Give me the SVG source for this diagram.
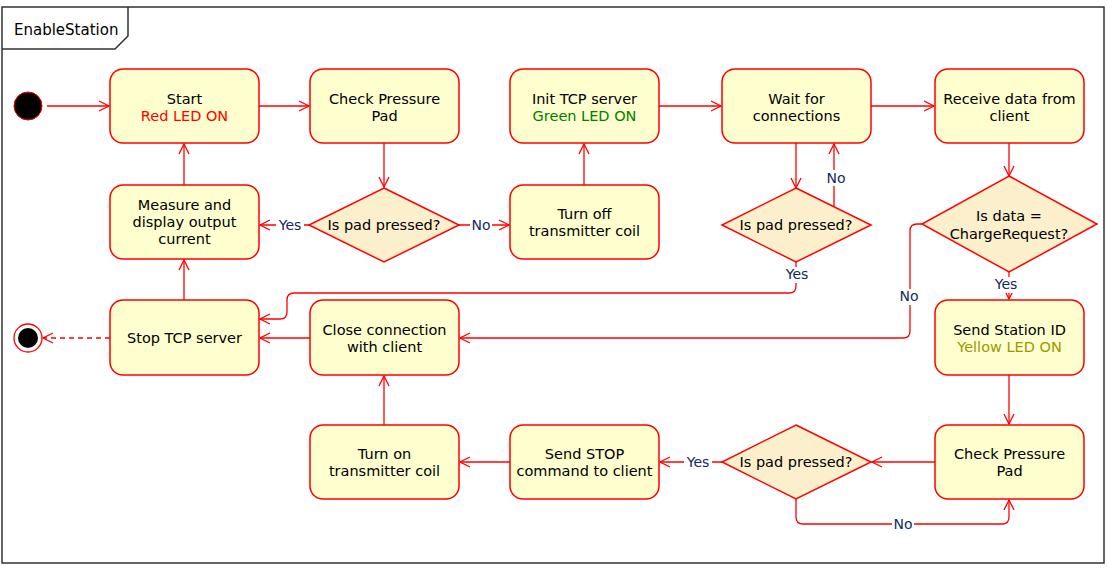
<svg xmlns="http://www.w3.org/2000/svg" width="1108" height="576" viewBox="0 0 1108 576">
<defs>
<marker id="arr" viewBox="0 0 12 12" refX="11" refY="6" markerWidth="12" markerHeight="12" markerUnits="userSpaceOnUse" orient="auto">
<path d="M1,1 L11,6 L1,11" fill="none" stroke="#FF0000" stroke-width="1.3"/>
</marker>
</defs>
<style>
.frame{fill:none;stroke:#333;stroke-width:1.5}
.act{fill:#FEFECE;stroke:#FF0000;stroke-width:1.5}
.dec{fill:#FCEFCB;stroke:#FF0000;stroke-width:1.5}
.t{font-family:"DejaVu Sans",Verdana,sans-serif;font-size:14.5px;fill:#000;text-anchor:middle}
.lbl{font-family:"DejaVu Sans",Verdana,sans-serif;font-size:14px;fill:#132a5e;text-anchor:middle}
.c{fill:none;stroke:#FF0000;stroke-width:1.3;marker-end:url(#arr)}
.red{fill:#FF0000}.green{fill:#008000}.olive{fill:#9A9A00}
</style>
<rect width="1108" height="576" fill="#fff"/>
<g id="frame">
<rect class="frame" x="2" y="7" width="1102" height="556"/>
<path class="frame" d="M2,49 H115 L128,36 V7"/>
<text x="14" y="35" style="font-family:'DejaVu Sans',Verdana,sans-serif;font-size:15px;fill:#000">EnableStation</text>
</g>
<g id="connectors">
<line class="c" x1="47" y1="106" x2="109" y2="106"/>
<line class="c" x1="259" y1="106" x2="309" y2="106"/>
<line class="c" x1="384" y1="143" x2="384" y2="187"/>
<line class="c" x1="309" y1="225" x2="260" y2="225"/>
<line class="c" x1="459" y1="225" x2="509" y2="225"/>
<line class="c" x1="584" y1="185" x2="584" y2="144"/>
<line class="c" x1="659" y1="106" x2="721" y2="106"/>
<line class="c" x1="796" y1="143" x2="796" y2="188"/>
<polyline class="c" points="834,206 834,144"/>
<path class="c" d="M796,262 V286 Q796,293 789,293 H294 Q287,293 287,300 V312 Q287,319 280,319 H260"/>
<line class="c" x1="871" y1="106" x2="934" y2="106"/>
<line class="c" x1="1009" y1="143" x2="1009" y2="176"/>
<line class="c" x1="1009" y1="272" x2="1009" y2="299"/>
<path class="c" d="M923,224 H917 Q910,224 910,231 V331 Q910,338 903,338 H460"/>
<line class="c" x1="310" y1="338" x2="260" y2="338"/>
<line class="c" x1="184" y1="300" x2="184" y2="260"/>
<line class="c" x1="184" y1="185" x2="184" y2="144"/>
<line class="c" x1="110" y1="338" x2="43" y2="338" stroke-dasharray="5,4"/>
<line class="c" x1="1009" y1="375" x2="1009" y2="424"/>
<line class="c" x1="935" y1="462" x2="872" y2="462"/>
<line class="c" x1="722" y1="462" x2="660" y2="462"/>
<path class="c" d="M796,499 V517 Q796,524 803,524 H1002 Q1009,524 1009,517 V500"/>
<line class="c" x1="510" y1="462" x2="460" y2="462"/>
<line class="c" x1="384" y1="425" x2="384" y2="376"/>
<rect x="276" y="217" width="28" height="16" fill="#fff"/>
<text class="lbl" x="290" y="230">Yes</text>
<rect x="470" y="217" width="22" height="16" fill="#fff"/>
<text class="lbl" x="481" y="230">No</text>
<rect x="825" y="170" width="22" height="16" fill="#fff"/>
<text class="lbl" x="836" y="183">No</text>
<rect x="783" y="267" width="28" height="16" fill="#fff"/>
<text class="lbl" x="797" y="279">Yes</text>
<rect x="992" y="277" width="28" height="16" fill="#fff"/>
<text class="lbl" x="1006" y="289">Yes</text>
<rect x="898" y="289" width="22" height="16" fill="#fff"/>
<text class="lbl" x="909" y="301">No</text>
<rect x="684" y="454" width="28" height="16" fill="#fff"/>
<text class="lbl" x="698" y="467">Yes</text>
<rect x="892" y="517" width="22" height="16" fill="#fff"/>
<text class="lbl" x="903" y="529">No</text>
</g>
<g id="start"><circle cx="28" cy="106" r="14" fill="#000" stroke="#FF0000" stroke-width="1"/></g>
<g id="end"><circle cx="28" cy="338" r="14" fill="#fff" stroke="#FF0000" stroke-width="1.3"/><circle cx="28" cy="338" r="10" fill="#000"/></g>
<g id="n_start"><rect class="act" x="110" y="69" width="149" height="74" rx="13"/><text class="t" x="184.5" y="104">Start</text><text class="t red" x="184.5" y="121">Red LED ON</text></g>
<g id="n_check1"><rect class="act" x="310" y="69" width="149" height="74" rx="13"/><text class="t" x="384.5" y="104">Check Pressure</text><text class="t" x="384.5" y="121">Pad</text></g>
<g id="n_init"><rect class="act" x="510" y="69" width="149" height="74" rx="13"/><text class="t" x="584.5" y="104">Init TCP server</text><text class="t green" x="584.5" y="121">Green LED ON</text></g>
<g id="n_wait"><rect class="act" x="722" y="69" width="149" height="74" rx="13"/><text class="t" x="796.5" y="104">Wait for</text><text class="t" x="796.5" y="121">connections</text></g>
<g id="n_receive"><rect class="act" x="935" y="69" width="149" height="74" rx="13"/><text class="t" x="1009.5" y="104">Receive data from</text><text class="t" x="1009.5" y="121">client</text></g>
<g id="d1"><polygon class="dec" points="384,188 459,225 384,262 309,225"/><text class="t" x="384" y="230">Is pad pressed?</text></g>
<g id="n_measure"><rect class="act" x="110" y="185" width="149" height="74" rx="13"/><text class="t" x="184.5" y="210">Measure and</text><text class="t" x="184.5" y="227">display output</text><text class="t" x="184.5" y="244">current</text></g>
<g id="n_turnoff"><rect class="act" x="510" y="185" width="149" height="74" rx="13"/><text class="t" x="584.5" y="219">Turn off</text><text class="t" x="584.5" y="236">transmitter coil</text></g>
<g id="d2"><polygon class="dec" points="796,188 871,225 796,262 722,225"/><text class="t" x="796" y="230">Is pad pressed?</text></g>
<g id="d3"><polygon class="dec" points="1009,176 1097,224 1009,272 922,224"/><text class="t" x="1009" y="221">Is data =</text><text class="t" x="1009" y="239">ChargeRequest?</text></g>
<g id="n_stop"><rect class="act" x="110" y="300" width="149" height="75" rx="13"/><text class="t" x="184.5" y="343">Stop TCP server</text></g>
<g id="n_close"><rect class="act" x="310" y="300" width="149" height="75" rx="13"/><text class="t" x="384.5" y="335">Close connection</text><text class="t" x="384.5" y="352">with client</text></g>
<g id="n_sendid"><rect class="act" x="935" y="300" width="149" height="75" rx="13"/><text class="t" x="1009.5" y="335">Send Station ID</text><text class="t olive" x="1009.5" y="352">Yellow LED ON</text></g>
<g id="n_turnon"><rect class="act" x="310" y="425" width="149" height="74" rx="13"/><text class="t" x="384.5" y="459">Turn on</text><text class="t" x="384.5" y="476">transmitter coil</text></g>
<g id="n_sendstop"><rect class="act" x="510" y="425" width="149" height="74" rx="13"/><text class="t" x="584.5" y="459">Send STOP</text><text class="t" x="584.5" y="476">command to client</text></g>
<g id="d4"><polygon class="dec" points="796,425 871,462 796,499 722,462"/><text class="t" x="796" y="467">Is pad pressed?</text></g>
<g id="n_check2"><rect class="act" x="935" y="425" width="149" height="74" rx="13"/><text class="t" x="1009.5" y="459">Check Pressure</text><text class="t" x="1009.5" y="476">Pad</text></g>
</svg>
